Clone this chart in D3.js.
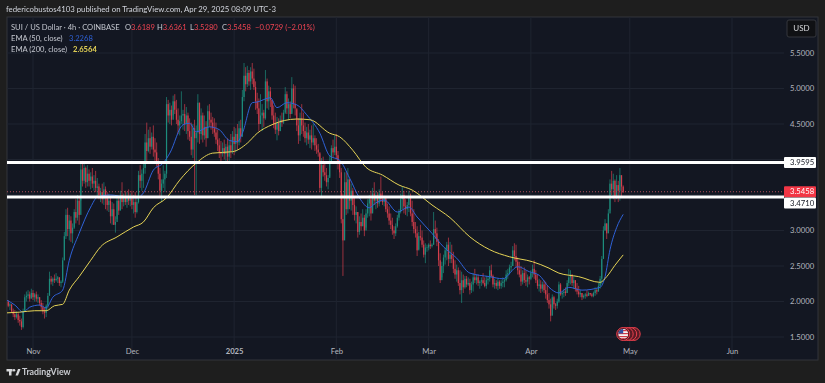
<!DOCTYPE html>
<html lang="en">
<head>
    <meta charset="utf-8">
    <title>SUI / US Dollar</title>
    <script src="https://d3js.org/d3.v7.min.js"></script>
</head>
<style>
    body {
        margin: 0;
        padding: 0;
        background-color: #1e1e1e;
        overflow: hidden;
    }
    svg {
        filter: blur(0.35px);
    }
    text {
        font-family: Lato, sans-serif;
    }
    .axis path, .axis line {
        display: none;
    }
    .axis text {
        font-family: Lato, sans-serif;
        font-size: 7.7px;
        fill: #b2b5be;
    }
    .legend {
        font-size: 7.6px;
        fill: #c4c7cf;
    }
    .grid {
        stroke: #1f2430;
        stroke-width: 1;
    }
</style>
<body>
    <svg width="825" height="383" id="chart"></svg>

    <script>
        // 12h candles starting Oct 24 2024
        var highs = [
            2.04,2.02,1.98,1.96,1.90,1.88,1.86,1.84,1.80,1.76,
            1.90,2.10,2.14,2.16,2.14,2.18,2.16,2.12,2.14,2.10,
            2.06,2.02,1.98,1.92,1.96,2.12,2.42,2.36,2.34,2.38,
            2.40,2.36,2.34,2.30,2.62,2.98,3.30,3.32,3.22,3.20,
            3.10,3.30,3.44,3.50,3.46,3.94,3.98,3.96,3.90,3.92,
            3.86,3.82,3.88,3.78,3.84,3.74,3.66,3.60,3.66,3.68,
            3.62,3.54,3.52,3.46,3.40,3.38,3.20,3.50,3.48,3.56,
            3.68,3.52,3.56,3.54,3.58,3.52,3.56,3.50,3.54,3.46,
            3.84,3.92,3.86,3.94,4.36,4.52,4.42,4.46,4.38,4.48,
            4.30,4.24,4.02,3.88,3.72,3.92,3.84,4.88,4.84,4.80,
            4.76,4.90,4.92,4.84,4.72,4.62,4.96,4.70,4.78,4.74,
            4.66,4.58,4.52,4.50,4.56,4.48,4.92,4.80,4.72,4.66,
            4.62,4.54,4.76,4.78,4.66,4.60,4.58,4.52,4.42,4.30,
            4.26,4.24,4.28,4.22,4.30,4.26,4.36,4.40,4.46,4.44,
            4.50,4.54,4.56,4.98,5.36,5.30,5.32,5.26,5.30,5.36,
            5.28,5.10,4.94,4.86,4.92,4.78,4.70,5.26,5.14,5.04,
            5.02,4.84,4.76,4.66,4.60,4.58,4.62,4.66,4.70,5.02,
            4.96,4.86,4.82,5.16,5.06,5.04,4.70,4.58,4.66,4.78,
            4.66,4.52,4.46,4.50,4.42,4.48,4.50,4.34,4.30,4.22,
            4.08,4.02,4.04,3.98,3.88,3.78,4.06,4.20,4.28,4.34,
            4.36,4.12,3.98,3.88,3.52,3.82,3.82,3.88,3.72,3.66,
            3.60,3.46,3.34,3.26,3.20,3.24,3.30,3.22,3.30,3.44,
            3.50,3.56,3.60,3.68,3.56,3.54,3.58,3.76,3.54,3.48,
            3.44,3.38,3.34,3.24,3.18,3.06,3.10,3.22,3.30,3.52,
            3.62,3.56,3.44,3.40,3.56,3.52,3.42,3.30,3.12,3.06,
            2.98,3.08,3.00,2.86,2.82,2.80,2.82,2.86,2.82,3.26,
            3.14,3.04,2.88,2.68,2.56,2.66,2.76,2.84,2.90,2.84,
            2.80,2.70,2.58,2.52,2.48,2.44,2.42,2.38,2.36,2.36,
            2.34,2.32,2.28,2.40,2.46,2.38,2.38,2.30,2.34,2.40,
            2.34,2.36,2.36,2.50,2.52,2.38,2.32,2.30,2.32,2.30,
            2.30,2.34,2.32,2.44,2.46,2.52,2.56,2.78,2.82,2.80,
            2.62,2.56,2.50,2.44,2.48,2.44,2.38,2.36,2.44,2.52,
            2.58,2.44,2.38,2.32,2.30,2.28,2.30,2.28,2.22,2.12,
            2.04,2.10,2.08,1.98,2.04,2.28,2.26,2.14,2.18,2.20,
            2.30,2.46,2.44,2.38,2.36,2.30,2.26,2.22,2.16,2.12,
            2.10,2.12,2.16,2.14,2.12,2.12,2.14,2.20,2.18,2.26,
            2.36,2.64,3.06,3.16,3.10,3.30,3.72,3.84,3.80,3.72,
            3.78,3.70,3.88,3.74,3.6361
        ];
        var lows = [
            1.96,1.92,1.88,1.84,1.78,1.74,1.76,1.70,1.66,1.60,
            1.62,1.86,2.00,2.04,2.00,2.06,2.02,2.00,2.00,1.98,
            1.94,1.88,1.82,1.76,1.78,1.90,2.10,2.24,2.22,2.26,
            2.28,2.26,2.22,2.20,2.26,2.58,2.88,2.92,2.86,2.84,
            2.82,3.02,3.10,3.14,3.08,3.42,3.62,3.66,3.60,3.62,
            3.62,3.58,3.60,3.56,3.54,3.48,3.44,3.40,3.38,3.36,
            3.30,3.28,3.26,3.10,3.08,3.08,2.97,3.16,3.22,3.30,
            3.30,3.34,3.36,3.32,3.36,3.34,3.30,3.24,3.18,3.24,
            3.38,3.60,3.56,3.60,3.80,3.96,4.10,4.08,4.14,4.04,
            3.98,3.90,3.72,3.48,3.40,3.60,3.54,3.74,4.52,4.50,
            4.48,4.62,4.64,4.50,4.36,4.34,4.50,4.42,4.40,4.36,
            4.28,4.26,4.06,4.02,3.50,3.50,4.24,4.22,4.28,4.24,
            4.28,4.18,4.30,4.46,4.42,4.36,4.32,4.22,4.12,4.02,
            3.96,4.04,4.00,3.98,3.96,3.98,4.02,4.08,4.06,4.10,
            4.14,4.20,4.24,4.34,4.82,4.96,5.02,5.04,4.98,5.06,
            4.98,4.70,4.64,4.40,4.58,4.40,4.46,4.56,4.72,4.70,
            4.74,4.56,4.44,4.36,4.27,4.34,4.40,4.46,4.50,4.64,
            4.64,4.56,4.58,4.66,4.72,4.62,4.40,4.22,4.26,4.36,
            4.32,4.24,4.20,4.22,4.16,4.14,4.20,4.12,4.08,4.04,
            3.54,3.48,3.76,3.70,3.62,3.58,3.76,3.98,4.02,4.06,
            4.00,3.86,3.74,3.10,2.36,2.90,3.22,3.24,3.30,3.28,
            3.22,3.14,3.10,2.90,2.94,3.00,3.06,2.92,3.04,3.18,
            3.20,3.14,3.28,3.36,3.30,3.32,3.34,3.40,3.36,3.34,
            3.26,3.18,3.08,3.02,2.94,2.88,2.92,3.04,3.14,3.24,
            3.30,3.24,3.22,3.20,3.26,3.20,3.06,2.96,2.90,2.64,
            2.74,2.86,2.76,2.62,2.54,2.70,2.72,2.74,2.76,2.80,
            2.88,2.78,2.50,2.26,2.34,2.40,2.52,2.58,2.50,2.54,
            2.54,2.40,2.32,2.28,2.22,2.10,1.98,2.12,2.18,2.20,
            2.22,2.10,2.12,2.14,2.26,2.24,2.22,2.18,2.22,2.24,
            2.20,2.18,2.24,2.28,2.34,2.20,2.18,2.18,2.16,2.18,
            2.18,2.20,2.20,2.28,2.32,2.38,2.42,2.50,2.58,2.48,
            2.38,2.34,2.22,2.24,2.26,2.22,2.20,2.24,2.30,2.34,
            2.32,2.26,2.18,2.14,2.12,2.14,2.12,2.04,1.98,1.90,
            1.72,1.92,1.90,1.88,1.90,1.98,2.08,2.04,2.06,2.08,
            2.12,2.22,2.24,2.22,2.18,2.14,2.10,2.06,2.06,2.02,
            2.04,2.04,2.06,2.08,2.08,2.06,2.06,2.08,2.10,2.14,
            2.18,2.24,2.60,3.00,2.88,3.02,3.28,3.50,3.44,3.40,
            3.44,3.40,3.42,3.48,3.528
        ];
        var closes = [
            2.00,1.94,1.96,1.86,1.82,1.78,1.82,1.74,1.72,1.64,
            1.86,2.06,2.08,2.10,2.04,2.12,2.06,2.10,2.04,2.06,
            1.98,1.92,1.86,1.84,1.94,2.08,2.32,2.28,2.32,2.30,
            2.32,2.34,2.26,2.28,2.58,2.92,3.22,3.02,3.14,2.96,
            3.04,3.26,3.18,3.42,3.22,3.86,3.70,3.88,3.68,3.80,
            3.70,3.76,3.66,3.70,3.60,3.62,3.50,3.54,3.44,3.58,
            3.46,3.36,3.42,3.20,3.30,3.08,3.12,3.42,3.28,3.50,
            3.40,3.46,3.40,3.48,3.42,3.46,3.36,3.40,3.26,3.40,
            3.78,3.70,3.80,3.88,4.24,4.12,4.30,4.18,4.32,4.14,
            4.10,3.96,3.80,3.56,3.66,3.72,3.80,4.78,4.62,4.70,
            4.56,4.82,4.70,4.56,4.48,4.54,4.62,4.64,4.50,4.62,
            4.40,4.32,4.14,4.44,4.30,4.38,4.80,4.36,4.62,4.34,
            4.46,4.30,4.68,4.56,4.52,4.44,4.38,4.28,4.20,4.10,
            4.08,4.16,4.08,4.18,4.04,4.20,4.12,4.32,4.22,4.36,
            4.24,4.44,4.32,4.88,5.18,5.06,5.22,5.10,5.24,5.14,
            5.02,4.82,4.72,4.50,4.62,4.66,4.58,5.10,4.82,4.96,
            4.84,4.62,4.50,4.42,4.52,4.40,4.56,4.52,4.66,4.92,
            4.72,4.78,4.64,5.00,4.78,4.72,4.48,4.34,4.58,4.48,
            4.40,4.30,4.38,4.28,4.34,4.24,4.30,4.20,4.14,4.10,
            3.60,3.92,3.82,3.78,3.68,3.74,3.98,4.16,4.10,4.18,
            4.06,3.94,3.82,3.16,2.86,3.68,3.30,3.72,3.42,3.56,
            3.36,3.22,3.26,2.98,3.12,3.06,3.18,3.00,3.24,3.38,
            3.44,3.24,3.52,3.42,3.50,3.38,3.52,3.44,3.40,3.46,
            3.30,3.24,3.14,3.08,3.00,2.96,3.06,3.18,3.26,3.44,
            3.50,3.34,3.30,3.36,3.46,3.24,3.12,3.02,2.96,2.72,
            2.92,2.90,2.80,2.66,2.76,2.76,2.80,2.78,2.80,3.02,
            2.96,2.84,2.58,2.30,2.50,2.62,2.72,2.80,2.60,2.66,
            2.60,2.46,2.38,2.44,2.26,2.16,2.30,2.20,2.32,2.24,
            2.26,2.16,2.24,2.34,2.30,2.34,2.26,2.28,2.30,2.26,
            2.22,2.30,2.32,2.44,2.36,2.24,2.26,2.22,2.28,2.22,
            2.26,2.28,2.30,2.38,2.40,2.48,2.50,2.72,2.64,2.56,
            2.44,2.38,2.28,2.40,2.30,2.28,2.34,2.32,2.40,2.46,
            2.38,2.30,2.22,2.24,2.18,2.24,2.16,2.10,2.02,1.96,
            1.80,2.06,1.96,1.94,2.00,2.24,2.10,2.12,2.14,2.12,
            2.26,2.34,2.38,2.26,2.30,2.18,2.14,2.10,2.12,2.06,
            2.08,2.10,2.08,2.12,2.10,2.08,2.12,2.16,2.14,2.22,
            2.32,2.60,3.00,3.10,2.96,3.24,3.66,3.58,3.70,3.48,
            3.64,3.56,3.78,3.6189,3.5458
        ];

        // EMA curves: candle index and price at the points
        var ema50Index = [0,5,10,14,20,24,28,34,38,44,51,55,63,72,79,83,89,95,99,107,111,115,123,129,135,140,143,149,152,160,164,170,176,182,190,196,202,208,214,220,224,229,237,244,249,258,265,273,281,293,301,310,317,323,329,335,341,349,360,363,366,370,374];
        var ema50Values = [2.02,1.95,1.85,1.92,1.95,1.91,2.06,2.16,2.58,2.96,3.33,3.47,3.50,3.47,3.46,3.53,3.85,3.95,4.09,4.49,4.51,4.39,4.46,4.42,4.27,4.25,4.37,4.80,4.81,4.87,4.73,4.80,4.77,4.63,4.37,4.05,3.99,3.74,3.46,3.32,3.39,3.43,3.26,3.33,3.19,2.96,2.77,2.61,2.40,2.35,2.32,2.49,2.42,2.37,2.20,2.12,2.20,2.16,2.20,2.35,2.73,3.04,3.2268];
        var ema200Index = [0,8,17,24,29,34,38,44,51,57,67,77,83,89,97,105,115,125,137,146,152,161,176,184,196,202,210,218,228,238,246,258,269,281,293,305,319,329,335,347,360,364,369,374];
        var ema200Values = [1.84,1.85,1.87,1.87,1.94,1.96,2.16,2.35,2.58,2.77,2.91,3.05,3.12,3.32,3.46,3.71,3.95,4.09,4.11,4.23,4.37,4.49,4.57,4.56,4.37,4.32,4.13,3.89,3.78,3.64,3.57,3.36,3.18,2.91,2.73,2.63,2.56,2.47,2.40,2.35,2.27,2.35,2.51,2.6564];

        var priceTicks = [1.5, 2, 2.5, 3, 3.5, 4, 4.5, 5, 5.5];
        // 3.5 and 4 sit behind the price labels
        var priceLabels = [1.5, 2, 2.5, 3, 4.5, 5, 5.5];
        var monthTicks = [Date.UTC(2024,10,1), Date.UTC(2024,11,1), Date.UTC(2025,0,1), Date.UTC(2025,1,1), Date.UTC(2025,2,1), Date.UTC(2025,3,1), Date.UTC(2025,4,1), Date.UTC(2025,5,1)];
        var monthLabels = ["Nov", "Dec", "2025", "Feb", "Mar", "Apr", "May", "Jun"];
        var levels = [3.9595, 3.4710];
        var lastPrice = 3.5458;

        var firstCandle = Date.UTC(2024,9,24);
        var step = 12 * 3600 * 1000;
        function candleTime(i) { return firstCandle + i * step; }

        var svg = d3.select("#chart");

        var x = d3.scaleTime()
            .domain([monthTicks[0], monthTicks[7]])
            .range([33, 732]);

        var y = d3.scaleLinear()
            .domain([5.5, 1.5])
            .range([53, 337]);

        var pane = {left: 7, right: 818, top: 17, bottom: 360, plotRight: 784};

        svg.append("rect")
            .attr("x", pane.left).attr("y", pane.top)
            .attr("width", pane.right - pane.left).attr("height", pane.bottom - pane.top)
            .attr("fill", "#131722").attr("stroke", "#32343a");

        svg.append("defs").append("clipPath").attr("id", "plot")
            .append("rect")
            .attr("x", pane.left).attr("y", pane.top)
            .attr("width", pane.plotRight - pane.left).attr("height", pane.bottom - pane.top);

        // grid
        svg.append("g").selectAll("line").data(priceTicks).enter().append("line")
            .attr("class", "grid")
            .attr("x1", pane.left).attr("x2", pane.plotRight)
            .attr("y1", function(d) { return y(d); })
            .attr("y2", function(d) { return y(d); });
        svg.append("g").selectAll("line").data(monthTicks).enter().append("line")
            .attr("class", "grid")
            .attr("x1", function(d) { return x(d); })
            .attr("x2", function(d) { return x(d); })
            .attr("y1", pane.top).attr("y2", pane.bottom);

        // candles
        var candles = closes.map(function(c, i) {
            return {t: candleTime(i), o: i ? closes[i - 1] : c, h: highs[i], l: lows[i], c: c};
        });
        var upColor = "#1f9e8a", downColor = "#ef4452";

        var cg = svg.append("g").attr("clip-path", "url(#plot)").attr("opacity", 0.88);
        cg.selectAll(".wick").data(candles).enter().append("line")
            .attr("class", "wick")
            .attr("x1", function(d) { return x(d.t); })
            .attr("x2", function(d) { return x(d.t); })
            .attr("y1", function(d) { return y(d.h); })
            .attr("y2", function(d) { return y(d.l); })
            .attr("stroke", function(d) { return d.c >= d.o ? upColor : downColor; })
            .attr("stroke-width", 0.7);
        cg.selectAll(".body").data(candles).enter().append("rect")
            .attr("class", "body")
            .attr("x", function(d) { return x(d.t) - 0.6; })
            .attr("width", 1.2)
            .attr("y", function(d) { return y(Math.max(d.o, d.c)); })
            .attr("height", function(d) { return Math.max(0.5, Math.abs(y(d.o) - y(d.c))); })
            .attr("fill", function(d) { return d.c >= d.o ? upColor : downColor; });

        // EMA lines
        function emaLine(index, values, color) {
            var line = d3.line()
                .x(function(d) { return x(candleTime(d)); })
                .y(function(d, i) { return y(values[i]); })
                .curve(d3.curveMonotoneX);
            svg.append("path")
                .datum(index)
                .attr("clip-path", "url(#plot)")
                .attr("d", line)
                .attr("fill", "none")
                .attr("stroke", color)
                .attr("stroke-width", 1);
        }
        emaLine(ema50Index, ema50Values, "#2f62d8");
        emaLine(ema200Index, ema200Values, "#e6d456");

        // last price dotted line
        svg.append("line")
            .attr("x1", pane.left).attr("x2", pane.plotRight)
            .attr("y1", y(lastPrice)).attr("y2", y(lastPrice))
            .attr("stroke", "#b0505a").attr("stroke-width", 1).attr("stroke-dasharray", "1,2");

        // white levels
        svg.append("g").selectAll("line").data(levels).enter().append("line")
            .attr("x1", pane.left).attr("x2", pane.plotRight)
            .attr("y1", function(d) { return y(d); })
            .attr("y2", function(d) { return y(d); })
            .attr("stroke", "#ffffff").attr("stroke-width", 3);

        // axes
        svg.append("g")
            .attr("class", "axis")
            .attr("transform", "translate(0,351)")
            .call(d3.axisBottom(x).tickValues(monthTicks).tickSize(0).tickPadding(-3)
                .tickFormat(function(d, i) { return monthLabels[i]; }))
            .selectAll("text")
            .attr("dy", "0.35em")
            .attr("y", 0)
            .style("font-weight", function(d, i) { return monthLabels[i] === "2025" ? "700" : "400"; });

        svg.append("g")
            .attr("class", "axis")
            .attr("transform", "translate(790,0)")
            .call(d3.axisRight(y).tickValues(priceLabels).tickSize(0).tickPadding(0).tickFormat(d3.format(".4f")));

        // price labels
        function priceBox(value, cy, fill, color) {
            svg.append("rect").attr("x", 784).attr("y", cy - 5.5).attr("width", 32).attr("height", 11)
                .attr("fill", fill).attr("rx", 1);
            svg.append("text").attr("x", 790).attr("y", cy).attr("dy", "0.35em")
                .style("font-size", "7.7px").attr("fill", color).text(d3.format(".4f")(value));
        }
        priceBox(levels[0], y(levels[0]), "#ffffff", "#131722");
        priceBox(lastPrice, y(lastPrice), "#f23645", "#ffffff");
        priceBox(levels[1], y(levels[1]) + 6, "#ffffff", "#131722");

        // USD box
        svg.append("rect").attr("x", 787).attr("y", 20).attr("width", 29).attr("height", 17).attr("rx", 2)
            .attr("fill", "#101114").attr("stroke", "#35373d");
        svg.append("text").attr("x", 801.5).attr("y", 28.5).attr("dy", "0.35em").attr("text-anchor", "middle")
            .style("font-size", "8px").attr("fill", "#d8d9dc").text("USD");

        // header
        svg.append("text").attr("x", 6).attr("y", 9).attr("dy", "0.35em")
            .style("font-size", "7.8px").attr("fill", "#d1d4dc")
            .text("federicobustos4103 published on TradingView.com, Apr 29, 2025 08:09 UTC-3");

        // legend rows
        var ohlc = [
            {x: 125, k: "O", v: "3.6189"},
            {x: 157, k: "H", v: "3.6361"},
            {x: 190, k: "L", v: "3.5280"},
            {x: 222, k: "C", v: "3.5458"}
        ];
        svg.append("text").attr("class", "legend").attr("x", 11).attr("y", 27.5).attr("dy", "0.35em")
            .text("SUI / US Dollar · 4h · COINBASE");
        ohlc.forEach(function(d) {
            var t = svg.append("text").attr("class", "legend").attr("x", d.x).attr("y", 27.5).attr("dy", "0.35em");
            t.append("tspan").text(d.k);
            t.append("tspan").style("fill", "#ef4452").text(d.v);
        });
        svg.append("text").attr("class", "legend").attr("x", 255).attr("y", 27.5).attr("dy", "0.35em")
            .style("fill", "#ef4452").text("−0.0729 (−2.01%)");
        svg.append("text").attr("class", "legend").attr("x", 11).attr("y", 38.5).attr("dy", "0.35em").text("EMA (50, close)");
        svg.append("text").attr("class", "legend").attr("x", 69).attr("y", 38.5).attr("dy", "0.35em")
            .style("fill", "#2f62d8").text("3.2268");
        svg.append("text").attr("class", "legend").attr("x", 11).attr("y", 49).attr("dy", "0.35em").text("EMA (200, close)");
        svg.append("text").attr("class", "legend").attr("x", 73).attr("y", 49).attr("dy", "0.35em")
            .style("fill", "#e6d456").style("font-weight", "700").text("2.6564");

        // events marker
        var fx = x(Date.UTC(2025,3,29));
        var marker = svg.append("g");
        [10.5, 7, 3.5, 0].forEach(function(dx) {
            marker.append("circle").attr("cx", fx + dx).attr("cy", 334).attr("r", 6.5)
                .attr("fill", "#5a1b24").attr("stroke", "#e9404d").attr("stroke-width", 1);
        });
        svg.append("clipPath").attr("id", "flag").append("circle").attr("cx", fx).attr("cy", 334).attr("r", 5);
        var flag = svg.append("g").attr("clip-path", "url(#flag)");
        flag.append("rect").attr("x", fx - 5).attr("y", 329).attr("width", 10).attr("height", 10).attr("fill", "#f4f4f4");
        [330, 333, 336, 338].forEach(function(sy) {
            flag.append("rect").attr("x", fx - 5).attr("y", sy).attr("width", 10).attr("height", 1.2).attr("fill", "#d33a46");
        });
        flag.append("rect").attr("x", fx - 5).attr("y", 329).attr("width", 5).attr("height", 4.5).attr("fill", "#2f4f9e");

        // footer logo
        var logo = svg.append("g").attr("fill", "#d8d9dc");
        logo.append("rect").attr("x", 6.5).attr("y", 369).attr("width", 6).attr("height", 2.5);
        logo.append("rect").attr("x", 9).attr("y", 369).attr("width", 2.5).attr("height", 6.5);
        logo.append("circle").attr("cx", 14).attr("cy", 370.3).attr("r", 1.3);
        logo.append("path").attr("d", "M15.5,375.5 L18,369 L20.5,369 L18,375.5 Z");
        svg.append("text").attr("x", 22).attr("y", 372).attr("dy", "0.35em")
            .style("font-size", "8.8px").style("font-weight", "700").attr("fill", "#c9cbd0").text("TradingView");
    </script>
</body>
</html>
